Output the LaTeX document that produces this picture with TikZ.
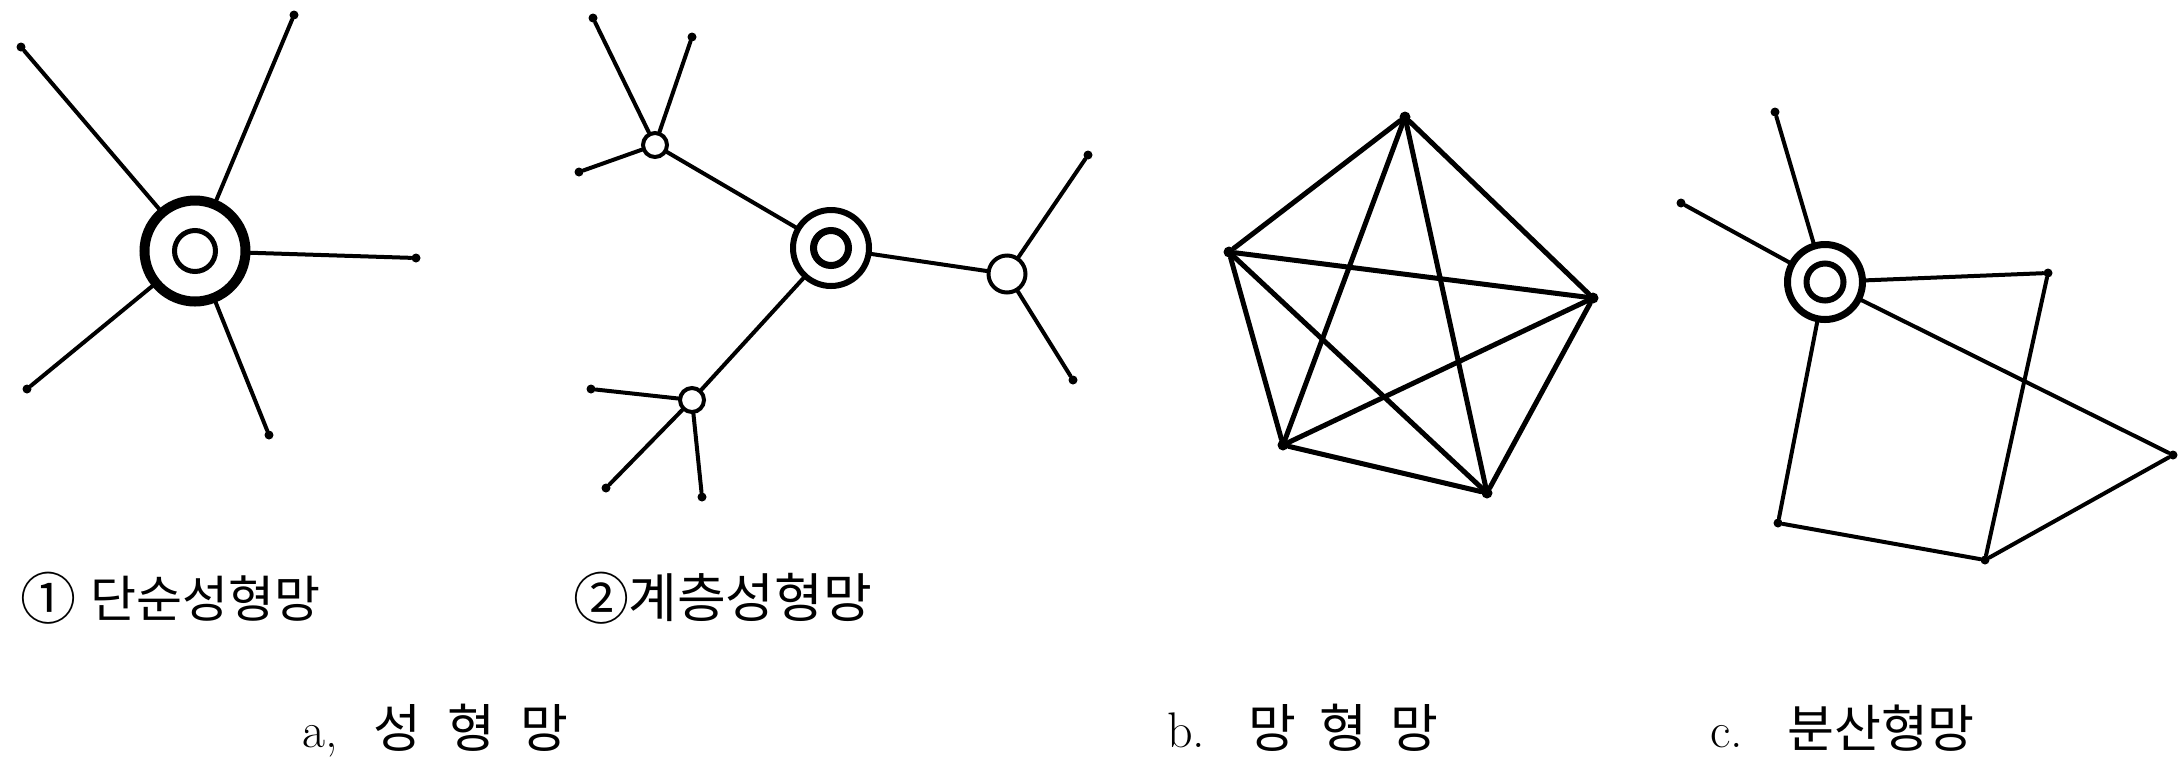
\documentclass[tikz,border=0pt]{standalone}
\usepackage{fontspec}
\newfontfamily\kr{Noto Sans CJK KR}
\newcommand{\circnum}[2]{\makebox[#1][l]{\raisebox{-1pt}{\fontsize{28}{30}\selectfont #2}}}
\begin{document}
\begin{tikzpicture}[x=0.5pt,y=-0.5pt,line cap=round,
  ln/.style={line width=2pt},
  lnb/.style={line width=2.5pt},
  dot/.style={circle,fill,inner sep=0pt,minimum size=4.5pt},
  bigdot/.style={circle,fill,inner sep=0pt,minimum size=5.5pt},
  ring/.style={circle,draw,inner sep=0pt},
  lbl/.style={inner sep=0pt,font=\fontsize{25}{30}\selectfont}]
\useasboundingbox (0,0) rectangle (2179,762);

% ---- 1: simple star ----
\node[ring,line width=5pt,minimum size=50.5pt] (A0) at (195,251) {};
\node[ring,line width=2.5pt,minimum size=20.5pt] (A0i) at (195,251) {};
\node[dot] (a1) at (21,47) {};
\node[dot] (a2) at (294,15) {};
\node[dot] (a3) at (416,258) {};
\node[dot] (a4) at (27,389) {};
\node[dot] (a5) at (269,435) {};
\foreach \e in {a1,a2,a3,a4,a5} \draw[ln] (A0) -- (\e);

% ---- 2: hierarchical star ----
\node[ring,line width=3pt,minimum size=38pt] (B0) at (831,248) {};
\node[ring,line width=3.5pt,minimum size=17.5pt] (B0i) at (831,248) {};
\node[ring,line width=2pt,minimum size=12pt] (B1) at (655,145) {};
\node[ring,line width=2pt,minimum size=18.5pt] (B2) at (1007,274) {};
\node[ring,line width=2pt,minimum size=12pt] (B3) at (692,400) {};
\node[dot] (b11) at (593,18) {};
\node[dot] (b12) at (692,37) {};
\node[dot] (b13) at (579,172) {};
\node[dot] (b21) at (1088,155) {};
\node[dot] (b22) at (1073,380) {};
\node[dot] (b31) at (591,389) {};
\node[dot] (b32) at (606,488) {};
\node[dot] (b33) at (702,497) {};
\foreach \e in {B1,B2,B3} \draw[ln] (B0) -- (\e);
\foreach \e in {b11,b12,b13} \draw[ln] (B1) -- (\e);
\foreach \e in {b21,b22} \draw[ln] (B2) -- (\e);
\foreach \e in {b31,b32,b33} \draw[ln] (B3) -- (\e);

% ---- b: mesh ----
\node[bigdot] (m1) at (1405,117) {};
\node[bigdot] (m2) at (1593,298) {};
\node[bigdot] (m3) at (1487,493) {};
\node[bigdot] (m4) at (1283,445) {};
\node[bigdot] (m5) at (1229,252) {};
\foreach \i/\j in {m1/m2,m2/m3,m3/m4,m4/m5,m5/m1,m1/m3,m1/m4,m2/m4,m2/m5,m3/m5}
  \draw[lnb] (\i) -- (\j);

% ---- c: distributed ----
\node[ring,line width=3.5pt,minimum size=37.5pt] (C0) at (1825,282) {};
\node[ring,line width=3pt,minimum size=18.5pt] (C0i) at (1825,282) {};
\node[dot] (c1) at (1775,112) {};
\node[dot] (c2) at (1681,203) {};
\node[dot] (c3) at (2048,273) {};
\node[dot] (c4) at (2173,455) {};
\node[dot] (c5) at (1985,560) {};
\node[dot] (c6) at (1778,523) {};
\foreach \e in {c1,c2,c3,c4,c6} \draw[ln] (C0) -- (\e);
\draw[ln] (c3) -- (c5);
\draw[ln] (c4) -- (c5);
\draw[ln] (c5) -- (c6);

% ---- labels ----
\node[lbl,anchor=base west] (t1) at (20,617) {\kr\circnum{35pt}{①}단순성형망};
\node[lbl,anchor=base west] (t2) at (573,617) {\kr\circnum{27.5pt}{②}{\fontsize{26.5}{30}\selectfont 계층성형망}};
\node[lbl,anchor=base west] (t3) at (302,747) {a,\hspace{18pt}{\kr\fontsize{26}{30}\selectfont 성\hspace{12.75pt}형\hspace{12.75pt}망}};
\node[lbl,anchor=base west] (t4) at (1167,747) {b.\hspace{21.5pt}{\kr\fontsize{26}{30}\selectfont 망\hspace{11.5pt}형\hspace{11.5pt}망}};
\node[lbl,anchor=base west] (t5) at (1710,747) {c.\hspace{22pt}{\kr\fontsize{25.5}{30}\selectfont 분산형망}};
\end{tikzpicture}
\end{document}
